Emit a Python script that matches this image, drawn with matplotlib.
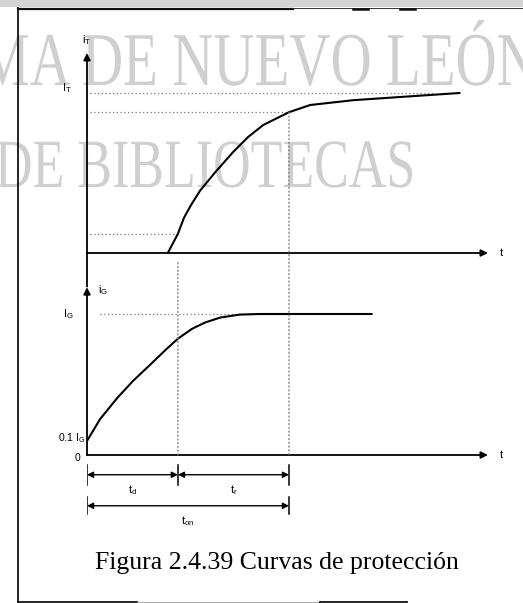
import numpy as np
import matplotlib
matplotlib.use('Agg')
import matplotlib.pyplot as plt
from matplotlib.patches import PathPatch, ConnectionPatch
from matplotlib.textpath import TextPath
from matplotlib.font_manager import FontProperties
from matplotlib.transforms import Affine2D

plt.rcParams['font.family'] = ['Liberation Sans', 'DejaVu Sans']
plt.rcParams['mathtext.default'] = 'regular'

# tiempos caracteristicos (unidades arbitrarias del eje t)
t_d = 0.9
t_on = 2.0
t_fin = 3.97

# corriente de puerta i_G normalizada a I_G
t_G = [0.0, 0.13, 0.30, 0.455, 0.625, 0.77, 0.90, 1.04, 1.17, 1.32, 1.515, 1.71, 2.82]
i_G = [0.1, 0.255, 0.405, 0.525, 0.64, 0.74, 0.825, 0.895, 0.94, 0.975, 0.996, 1.0, 1.0]

# corriente de anodo i_T normalizada a I_T
t_T = [0.80, 0.90, 0.96, 1.03, 1.12, 1.27, 1.445, 1.595, 1.745, 2.0, 2.21, 2.635,
       3.10, 3.69]
i_T = [0.0, 0.12, 0.22, 0.30, 0.39, 0.505, 0.63, 0.725, 0.80, 0.88, 0.925, 0.955,
       0.975, 1.0]

# niveles marcados con punteado
nivel_bajo = 0.12
nivel_alto = 0.88

W, H = 523, 603
fig = plt.figure(figsize=(W / 100, H / 100), dpi=100)

# fondo: marco escaneado y marca de agua
bg = fig.add_axes([0, 0, 1, 1])
bg.set_xlim(0, W)
bg.set_ylim(H, 0)
bg.axis('off')
bg.axhspan(0, 7, color='#d4d4d4', lw=0)
bg.plot([18, 293], [8.5, 8.5], color='#111111', lw=1.6)
bg.plot([293, W], [7.5, 7.5], color='#333333', lw=0.7)
bg.plot([353, 368], [8.5, 8.5], color='#111111', lw=1.8)
bg.plot([400, 415], [8.5, 8.5], color='#111111', lw=1.8)
bg.plot([18, 18], [8, 602], color='#111111', lw=1.3)
bg.plot([18, 137], [601.5, 601.5], color='#111111', lw=1.3)
bg.plot([137, 320], [601.5, 601.5], color='#999999', lw=0.6)
bg.plot([320, 407], [601.5, 601.5], color='#111111', lw=1.3)

serif = FontProperties(family='Liberation Serif')
marca = [('MA DE NUEVO LEÓN', -21, 85, 57, 76),
         ('DE BIBLIOTECAS', -5, 187, 52, 69)]
for texto, x0, base, sx, sy in marca:
    tp = TextPath((0, 0), texto, size=1, prop=serif)
    tr = Affine2D().scale(sx, -sy).translate(x0, base)
    bg.add_patch(PathPatch(tr.transform_path(tp), facecolor='#cfcfcf',
                           edgecolor='none', zorder=0))

# ejes de las dos graficas: t=0 en x=87 px, 101 px por unidad
px_t = 101
x0 = 87 / W
w = 4.0 * px_t / W
ax1 = fig.add_axes([x0, (H - 253 - 0.25 * 160) / H, w, 1.55 * 160 / H])
ax1.set_xlim(0, 4.0)
ax1.set_ylim(-0.25, 1.3)
ax2 = fig.add_axes([x0, (H - 455 - 0.5 * 141) / H, w, 1.7 * 141 / H])
ax2.set_xlim(0, 4.0)
ax2.set_ylim(-0.5, 1.2)
for ax in (ax1, ax2):
    ax.axis('off')
    ax.patch.set_alpha(0)

flecha = dict(arrowstyle='-|>', color='black', lw=1.3, mutation_scale=10,
              shrinkA=0, shrinkB=0)
punteado = dict(color='#777777', lw=0.9, ls=(0, (1, 2)))
fs = 8

# grafica superior: i_T
ax1.annotate('', xy=(0, 1.25), xytext=(0, -0.21), arrowprops=flecha,
             annotation_clip=False)
ax1.annotate('', xy=(t_fin, 0), xytext=(0, 0), arrowprops=flecha,
             annotation_clip=False)
ax1.text(t_fin + 0.13, 0, 't', fontsize=fs, ha='center', va='center')
ax1.text(0.0, 1.33, '$i_T$', fontsize=fs, ha='center', va='center')
ax1.text(-0.15, 1.03, '$I_T$', fontsize=fs, ha='right', va='center')
ax1.plot([0.03, 3.43], [1.0, 1.0], **punteado)
ax1.plot([0.03, t_on], [nivel_alto, nivel_alto], **punteado)
ax1.plot([0.03, t_d], [nivel_bajo, nivel_bajo], **punteado)
ax1.plot(t_T, i_T, color='black', lw=1.5, solid_capstyle='round',
         solid_joinstyle='round')

# grafica inferior: i_G
ax2.annotate('', xy=(0, 1.19), xytext=(0, 0), arrowprops=flecha,
             annotation_clip=False)
ax2.annotate('', xy=(t_fin, 0), xytext=(0, 0), arrowprops=flecha,
             annotation_clip=False)
ax2.text(t_fin + 0.13, 0, 't', fontsize=fs, ha='center', va='center')
ax2.text(0.16, 1.17, '$i_G$', fontsize=fs, ha='center', va='center')
ax2.text(-0.13, 1.0, '$I_G$', fontsize=fs, ha='right', va='center')
ax2.text(-0.02, 0.12, '0.1 $I_G$', fontsize=fs - 0.5, ha='right', va='center')
ax2.text(-0.09, -0.02, '0', fontsize=fs - 0.5, ha='center', va='center')
ax2.plot([0.13, t_on], [1.0, 1.0], **punteado)
ax2.plot(t_G, i_G, color='black', lw=1.5, solid_capstyle='round',
         solid_joinstyle='round')

# verticales punteadas en t_d y t_on que cruzan ambas graficas
for t, y_sup in [(t_d, -0.06), (t_on, nivel_alto)]:
    cp = ConnectionPatch(xyA=(t, y_sup), coordsA=ax1.transData,
                         xyB=(t, 0), coordsB=ax2.transData, **punteado)
    fig.add_artist(cp)

# cotas de tiempo
doble = dict(arrowstyle='<|-|>', color='black', lw=1.0, mutation_scale=9,
             shrinkA=0, shrinkB=0)
y1, y2 = -0.14, -0.36
for a, b in [(0, t_d), (t_d, t_on)]:
    ax2.annotate('', xy=(b, y1), xytext=(a, y1), arrowprops=doble,
                 annotation_clip=False)
ax2.annotate('', xy=(t_on, y2), xytext=(0, y2), arrowprops=doble,
             annotation_clip=False)
for t in (0, t_d, t_on):
    ax2.plot([t, t], [y1 - 0.07, y1 + 0.07], color='black', lw=1.1)
for t in (0, t_on):
    ax2.plot([t, t], [y2 - 0.06, y2 + 0.06], color='black', lw=1.1)
ax2.text(t_d / 2, -0.25, '$t_d$', fontsize=fs, ha='center', va='center')
ax2.text((t_d + t_on) / 2, -0.25, '$t_r$', fontsize=fs, ha='center', va='center')
ax2.text(t_on / 2, -0.47, '$t_{on}$', fontsize=fs, ha='center', va='center')

fig.text(277 / W, 1 - 563 / H, 'Figura 2.4.39 Curvas de protección',
         family='Liberation Serif', fontsize=18.5, ha='center', va='center')

fig.savefig('out.png', dpi=100)
